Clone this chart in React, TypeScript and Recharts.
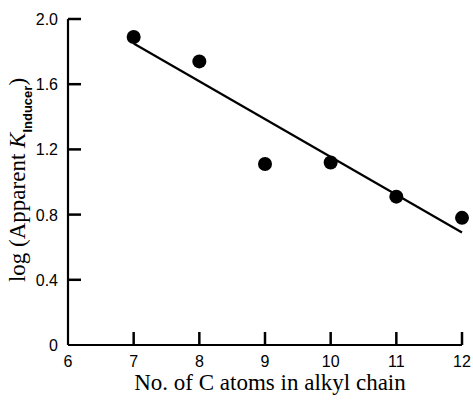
import React from 'react';
import { ScatterChart, Scatter, XAxis, YAxis } from 'recharts';

const carbonAtoms = [7, 8, 9, 10, 11, 12];
const logK = [1.89, 1.74, 1.11, 1.12, 0.91, 0.78];
const fitX = [7, 12];
const fitY = [1.85, 0.69];
const xTicks = [6, 7, 8, 9, 10, 11, 12];
const yTicks = [0, 0.4, 0.8, 1.2, 1.6, 2.0];

const points = carbonAtoms.map((x, i) => ({ x, y: logK[i] }));
const fitLine = fitX.map((x, i) => ({ x, y: fitY[i] }));

const SANS = 'Liberation Sans, Arial, sans-serif';
const SERIF = 'Liberation Serif, Times New Roman, serif';

const renderYTick = (props: any) => {
  const { x, y, payload, index } = props;
  const v = Number(payload.value);
  const label = v === 0 ? '0' : v.toFixed(1);
  return (
    <g key={`yt-${index}`}>
      {v !== 0 && <path d={`M${x},${y}h13`} stroke="#000" strokeWidth={2.5} fill="none" />}
      <text x={x - 10} y={y + 6} textAnchor="end" fontFamily={SANS} fontSize={16} fill="#000" stroke="none">
        {label}
      </text>
    </g>
  );
};

const renderXTick = (props: any) => {
  const { x, y, payload, index } = props;
  const v = Number(payload.value);
  return (
    <g key={`xt-${index}`}>
      {v !== 6 && <path d={`M${x},${y}v-13`} stroke="#000" strokeWidth={2.5} fill="none" />}
      <text x={x} y={y + 22} textAnchor="middle" fontFamily={SANS} fontSize={16} fill="#000" stroke="none">
        {String(v)}
      </text>
    </g>
  );
};

const Dot = (props: any) => {
  const { cx, cy } = props;
  return <circle cx={cx} cy={cy} r={7} fill="#000" />;
};

const NoShape = () => <g />;

export default function App() {
  return (
    <div style={{ position: 'absolute', left: 0, top: 0, width: 473, height: 401, background: '#fff' }}>
      <ScatterChart width={473} height={401} margin={{ top: 19, right: 11, left: 0, bottom: 0 }}>
        <XAxis
          type="number"
          dataKey="x"
          domain={[6, 12]}
          ticks={xTicks}
          height={56}
          tickSize={0}
          tickMargin={0}
          tickLine={false}
          axisLine={{ stroke: '#000', strokeWidth: 2.2 }}
          tick={renderXTick}
          interval={0}
          label={{
            content: () => (
              <text x={270} y={390} textAnchor="middle" fontFamily={SERIF} fontSize={23} fill="#000">
                No. of C atoms in alkyl chain
              </text>
            ),
          }}
        />
        <YAxis
          type="number"
          dataKey="y"
          domain={[0, 2]}
          ticks={yTicks}
          width={68}
          tickSize={0}
          tickMargin={0}
          tickLine={false}
          axisLine={{ stroke: '#000', strokeWidth: 2.2 }}
          tick={renderYTick}
          interval={0}
          label={{
            content: () => (
              <text
                x={25}
                y={180}
                transform="rotate(-90 25 180)"
                textAnchor="middle"
                fontFamily={SERIF}
                fontSize={23}
                fill="#000"
              >
                log (Apparent <tspan fontStyle="italic">K</tspan>
                <tspan fontFamily={SANS} fontWeight="bold" fontSize={13} dy={7}>Inducer</tspan>
                <tspan dy={-7}>)</tspan>
              </text>
            ),
          }}
        />
        <Scatter
          data={fitLine}
          line={{ stroke: '#000', strokeWidth: 2.2 }}
          shape={<NoShape />}
          isAnimationActive={false}
        />
        <Scatter data={points} shape={<Dot />} isAnimationActive={false} />
      </ScatterChart>
    </div>
  );
}
